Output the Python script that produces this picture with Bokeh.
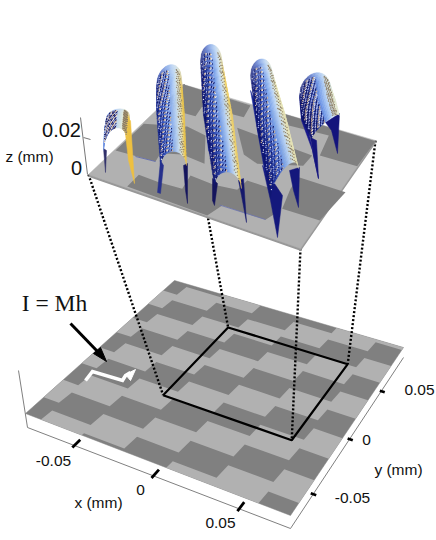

import numpy as np
from bokeh.plotting import figure
from bokeh.models import Range1d
from bokeh.embed import file_html
from bokeh.resources import INLINE
from bokeh.core.properties import value

# ---- plate extents and scale data (mm) ----
plate_x = [-0.083, 0.078]
plate_y = [-0.077, 0.088]
window_xy = [-0.025, 0.055]
x_ticks = [-0.05, 0, 0.05]
y_ticks = [-0.05, 0, 0.05]
x_tick_labels = ["-0.05", "0", "0.05"]
y_tick_labels = ["0.05", "0", "-0.05"]
# stair-stepped magnetisation pattern (mm)
run_len = 0.0266
band_period = 0.038
band_step = 0.0115
band_phase_x = 0.0073
band_phase_y = -0.014

# dark domains seen on the raised plate
upper_dark_x = [[183.3, 250, 243.3, 201.7, 195, 176.7, 167.3],
                [115, 143.3, 186.7, 205, 204, 181.7, 160, 155],
                [138.3, 158.3, 181.7, 190, 213.3, 236.7, 246.7, 276.7, 276.7, 265, 221.7, 206.7, 126.7],
                [236.7, 311.7, 302.7, 256.7, 243.3],
                [283.3, 375, 356.7, 319.3, 328.3, 288.3],
                [298.3, 345, 319.3, 281.7, 290]]
upper_dark_y = [[84, 105, 116.7, 106, 115.7, 110.7, 100],
                [150, 123.3, 126, 135, 163.3, 154, 152.7, 161],
                [174.3, 181.7, 188.3, 175, 184.3, 189.3, 180, 190, 211.7, 219.3, 205, 215, 186],
                [127.3, 155, 165.3, 163.3, 154],
                [113.3, 140.7, 165.7, 155, 135, 125],
                [176.7, 191.7, 220, 208.3, 188.3]]

# ---- ridge surfaces: control rows, foot -> mid -> cap ----
ridge_left_x = [[103, 104, 106], [160, 156, 156], [214, 203, 200], [270, 257, 250], [311, 301, 299]]
ridge_left_y = [[150, 130, 118], [165, 110, 85], [185, 115, 60], [197, 130, 75], [138, 118, 95]]
ridge_right_x = [[128, 129, 129], [186, 184, 181], [241, 232, 221], [298, 285, 271], [339, 335, 330]]
ridge_right_y = [[145, 128, 115], [165, 115, 78], [188, 115, 60], [168, 115, 72], [115, 100, 88]]
ridge_arch = [[20, 12, 8], [14, 10, 17], [15, 8, 16], [15, 8, 15], [5, 10, 19]]
ridge_tint = [0.45, 0.12, 0.0, 0.0, -0.12]
ridge_warm_cap = [1.0, 1.0, 0.95, 0.88, 0.86]
# drips beneath the ridges: outline, colour
drip_x = [[103, 106, 105, 104], [124, 130, 134, 128], [160, 163, 160, 157], [183, 187, 187, 185],
          [212, 217, 214, 212], [238, 243, 246, 241], [262, 282, 277, 270], [289, 299, 298, 293],
          [299, 309, 318, 312, 301], [325, 339, 337, 331], [203, 207, 214, 208], [250, 258, 272, 264],
          [310, 316, 318, 313]]
drip_y = [[148, 150, 172, 160], [125, 120, 183, 160], [160, 165, 193, 192], [165, 163, 203, 190],
          [178, 183, 205, 200], [180, 178, 222, 195], [165, 195, 237, 200], [170, 167, 207, 190],
          [95, 135, 178, 150, 120], [122, 113, 153, 130], [100, 110, 160, 150], [90, 110, 190, 170],
          [137, 140, 178, 155]]
drip_col = ["#30306a", "#eec040", "#26308c", "#14145c", "#14145c", "#14186c", "#14187c", "#14187c",
            "#18188c", "#14147c", "#2036a0", "#1c2a98", "#14147c"]

# ---- projection ----
def homography(q):
    (x0, y0), (x1, y1), (x2, y2), (x3, y3) = q
    dx1, dx2, sx = x1 - x2, x3 - x2, x0 - x1 + x2 - x3
    dy1, dy2, sy = y1 - y2, y3 - y2, y0 - y1 + y2 - y3
    det = dx1 * dy2 - dx2 * dy1
    g = (sx * dy2 - dx2 * sy) / det
    h = (dx1 * sy - sx * dy1) / det
    return (x1 - x0 + g * x1, x3 - x0 + h * x3, x0, y1 - y0 + g * y1, y3 - y0 + h * y3, y0, g, h)

lower_H = homography([(25, 413), (290, 515), (403, 347), (174, 280)])
upper_H = homography([(88, 174), (300, 248), (375, 140), (183, 84)])

def project(H, box, x, y):
    a, b, c, d, e, f, g, h = H
    u = (np.asarray(x, float) - box[0][0]) / (box[0][1] - box[0][0])
    v = (np.asarray(y, float) - box[1][0]) / (box[1][1] - box[1][0])
    w = g * u + h * v + 1
    return (a * u + b * v + c) / w, (d * u + e * v + f) / w

lower_box = (plate_x, plate_y)
upper_box = (window_xy, window_xy)

def clip(poly, x0, x1, y0, y1):
    def half(pts, inside, cross):
        out = []
        for i, p in enumerate(pts):
            q = pts[(i + 1) % len(pts)]
            if inside(p):
                out.append(p)
            if inside(p) != inside(q):
                out.append(cross(p, q))
        return out
    def cx(xv):
        return lambda p, q: (xv, p[1] + (q[1] - p[1]) * (xv - p[0]) / (q[0] - p[0]))
    def cy(yv):
        return lambda p, q: (p[0] + (q[0] - p[0]) * (yv - p[1]) / (q[1] - p[1]), yv)
    for ins, cr in [(lambda p: p[0] >= x0, cx(x0)), (lambda p: p[0] <= x1, cx(x1)),
                    (lambda p: p[1] >= y0, cy(y0)), (lambda p: p[1] <= y1, cy(y1))]:
        if poly:
            poly = half(poly, ins, cr)
    return poly

def stair(y_start, n=16):
    pts = []
    for i in range(n):
        xa = band_phase_x + (i - 8) * run_len
        ya = y_start + (i - 8) * band_step
        pts.append((xa + 0.0008, ya))
        pts.append((xa + run_len, ya))
    return pts

bands = []
for k in range(-14, 15):
    y_s = band_phase_y + k * band_period
    low = stair(y_s)
    up = stair(y_s + band_period / 2)
    bands.append(low + up[::-1])

def plate_polys(H, box):
    xs, ys = [], []
    for b in bands:
        c = clip(b, box[0][0], box[0][1], box[1][0], box[1][1])
        if len(c) >= 3:
            px, py = project(H, box, [p[0] for p in c], [p[1] for p in c])
            xs.append(px.tolist())
            ys.append(py.tolist())
    return xs, ys

# ---- figure ----
p = figure(width=436, height=540, x_range=Range1d(0, 436), y_range=Range1d(540, 0),
           x_axis_type=None, y_axis_type=None, toolbar_location=None, output_backend="svg",
           min_border=0, outline_line_color=None)
p.grid.visible = False
p.background_fill_color = "white"

DARK, LIGHT = "#808080", "#b1b1b1"
FONT = value("Liberation Sans")

def label(x, y, s, size, font=FONT, color="#111111"):
    p.text([x], [y], text=[s], text_font=font, text_font_size=value(f"{size}px"),
           text_align="center", text_baseline="middle", text_color=color)

# lower plate
bx = [plate_x[0], plate_x[1], plate_x[1], plate_x[0]]
by = [plate_y[0], plate_y[0], plate_y[1], plate_y[1]]
px, py = project(lower_H, lower_box, bx, by)
p.patch(px, py, fill_color=DARK, line_color=DARK, line_width=0.5)
xs, ys = plate_polys(lower_H, lower_box)
p.patches(xs, ys, fill_color=LIGHT, line_color=None)

# lower axes, below the plate
ax, ay = project(lower_H, lower_box, [plate_x[0], plate_x[1], plate_x[1]], [plate_y[0], plate_y[0], plate_y[1]])
ay = ay + np.array([14, 13, 10])
p.line(ax + [2, 0, 0], ay, line_color="#808080", line_width=1)
p.line([18, ax[0] + 2], [370, ay[0]], line_color="#808080", line_width=1)
for t in x_ticks:
    tx, ty = project(lower_H, lower_box, [t, t], [plate_y[0] - 0.002, plate_y[0] + 0.0055])
    p.line(tx, ty + 13, line_color="black", line_width=2.8)
for t in y_ticks:
    tx, ty = project(lower_H, lower_box, [plate_x[1] - 0.0005, plate_x[1] + 0.0025], [t, t])
    p.line(tx - 1, ty + 11, line_color="black", line_width=2.8)

for (lx, ly), s in zip([(53, 460), (140, 489), (220, 522)], x_tick_labels):
    label(lx, ly, s, 15.5)
for (lx, ly), s in zip([(419, 389), (366, 439), (352, 497)], y_tick_labels):
    label(lx, ly, s, 15.5)
label(98, 502, "x (mm)", 15.5)
label(398, 469, "y (mm)", 15.5)

# window rectangle
wx = [window_xy[0], window_xy[1], window_xy[1], window_xy[0], window_xy[0]]
wy = [window_xy[0], window_xy[0], window_xy[1], window_xy[1], window_xy[0]]
rx, ry = project(lower_H, lower_box, wx, wy)
p.line(rx, ry, line_color="black", line_width=2.2)

# dotted projectors
ux, uy = project(upper_H, upper_box, wx[:4], wy[:4])
for i in range(4):
    p.line([ux[i], rx[i]], [uy[i], ry[i]], line_color="black", line_width=2.4, line_dash="2 2")

# I = Mh annotation
label(54, 302, "I = Mh", 23.5, font=value("Liberation Serif"))
p.line([70, 98], [323, 352], line_color="black", line_width=3)
p.patch([93, 100, 106], [353, 347, 361], fill_color="black", line_color="black")
p.line([85, 92, 122, 125, 130], [380, 371, 380, 375, 372], line_color="white", line_width=3.5, line_join="miter")
p.patch([125, 135, 130], [374, 369, 380], fill_color="white", line_color="white")

# upper plate
p.patch(ux[[0, 1, 2]], uy[[0, 1, 2]] + 1.5, fill_color="#989898", line_color="#989898", line_width=1.5)
p.patch(ux, uy, fill_color=LIGHT, line_color=LIGHT, line_width=0.5)
p.patches(upper_dark_x, upper_dark_y, fill_color=DARK, line_color=None)
p.line([135, 155], [156, 161], line_color="#5a66b0", line_width=0.8)
p.line([219, 265], [204.5, 219], line_color="#6a72b0", line_width=0.8)

# z axis
p.line([80, 87], [117, 174], line_color="#777777", line_width=1)
p.line([83, 90], [137, 139], line_color="#777777", line_width=1)
label(61, 129, "0.02", 20)
label(76, 167, "0", 20)
label(29, 156, "z (mm)", 15.5)

# ridges
stops_t = [0, .1, .3, .5, .7, .85, .93, 1]
stops_c = np.array([[15, 20, 110], [22, 36, 135], [55, 85, 190], [115, 155, 232],
                    [180, 208, 245], [225, 235, 222], [240, 215, 120], [235, 190, 60]], float)

def colour(t, s, tint, cap):
    tt = min(cap, max(0.0, t + tint * (1 - t)))
    c = np.array([np.interp(tt, stops_t, stops_c[:, i]) for i in range(3)])
    if s > 0.8:
        c = c + (np.array([205, 222, 242]) - c) * (s - 0.8) / 0.2 * (0.3 + 0.45 * t)
    return "#%02x%02x%02x" % tuple(int(v) for v in c)

p.patches([list(a) for a in drip_x], [list(a) for a in drip_y],
          fill_color=drip_col, line_color=drip_col, line_width=0.5)

def ridge_point(i, s, t):
    c = [0, 0.5, 1]
    lx = np.interp(s, c, ridge_left_x[i]); ly = np.interp(s, c, ridge_left_y[i])
    rx_ = np.interp(s, c, ridge_right_x[i]); ry_ = np.interp(s, c, ridge_right_y[i])
    h = np.interp(s, c, ridge_arch[i])
    return lx + (rx_ - lx) * t, ly + (ry_ - ly) * t - h * np.sqrt(max(0.0, 1 - (2 * t - 1) ** 2))

NS, NT = 26, 22
s_grid = np.linspace(0, 1, NS + 1)
t_grid = np.linspace(0, 1, NT + 1)
tones = ["#e8e8f0", "#d8b890", "#0c1260", "#b8c0ec", "#0c1260"]
for i in range(5):
    qx, qy, qc = [], [], []
    for a in range(NS):
        for b in range(NT):
            corners = [ridge_point(i, s_grid[a], t_grid[b]), ridge_point(i, s_grid[a], t_grid[b + 1]),
                       ridge_point(i, s_grid[a + 1], t_grid[b + 1]), ridge_point(i, s_grid[a + 1], t_grid[b])]
            qx.append([c[0] for c in corners])
            qy.append([c[1] for c in corners])
            qc.append(colour(t_grid[b] + 0.5 / NT, s_grid[a], ridge_tint[i], ridge_warm_cap[i]))
    p.patches(qx, qy, fill_color=qc, line_color=qc, line_width=0.4)
    # speckle of the surface mesh
    sx_, sy_, sc_ = [], [], []
    for k in range(1, 520):
        t = (k * 0.75488) % 1 * 0.46 + 0.02
        s = (k * 0.56984) % 1 * 0.95
        a_, b_ = ridge_point(i, s, t)
        sx_.append(a_); sy_.append(b_); sc_.append(tones[k % 5])
    for k in range(1, 110):
        t = (k * 0.75488) % 1 * 0.17 + 0.75
        s = (k * 0.56984) % 1 * 0.96
        a_, b_ = ridge_point(i, s, t)
        sx_.append(a_); sy_.append(b_); sc_.append("#8a7a62")
    p.scatter(sx_, sy_, size=1.3, fill_color=sc_, line_color=None)

open("out.html", "w").write(file_html(p, INLINE))
